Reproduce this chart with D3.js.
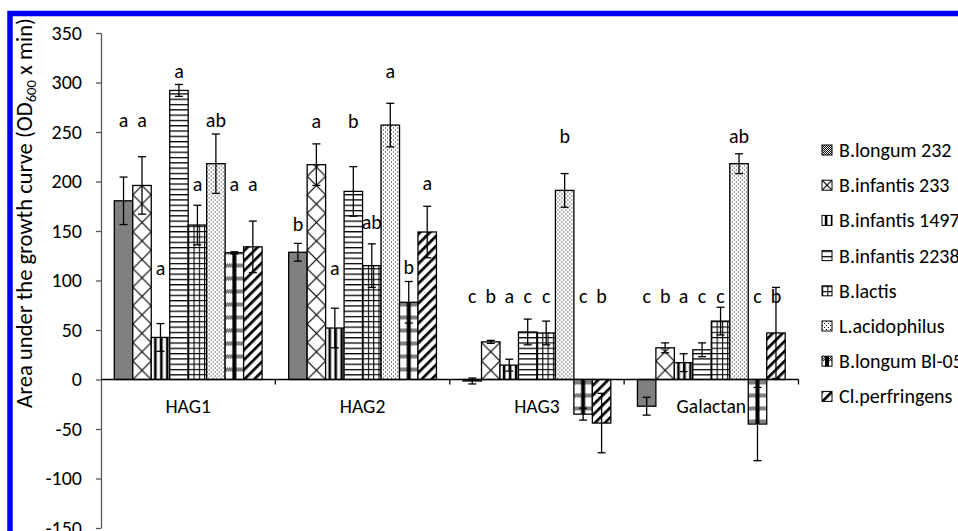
<!DOCTYPE html>
<html><head><meta charset="utf-8">
<script src="https://cdn.jsdelivr.net/npm/d3@7"></script>
<style>
html,body{margin:0;padding:0;background:#fff;overflow:hidden;}
svg{display:block;}
text{font-family:Carlito, Calibri, Lato, sans-serif;fill:#000;}
</style></head><body>
<svg id="chart" width="958" height="531"></svg>
<script>
// ---------- data ----------
const categories = ["HAG1", "HAG2", "HAG3", "Galactan"];
const seriesNames = ["B.longum 232", "B.infantis 233", "B.infantis 1497", "B.infantis 2238",
                     "B.lactis", "L.acidophilus", "B.longum Bl-05", "Cl.perfringens"];
// values per series, one per category
const longum232    = [180.5, 128.5, -1.5, -27];
const infantis233  = [196, 217, 38, 32];
const infantis1497 = [42.5, 52, 14.5, 17];
const infantis2238 = [292, 190, 48, 30];
const lactis       = [156, 115, 47, 59];
const acidophilus  = [218, 257, 191, 218];
const longumBl05   = [128, 78, -35, -45];
const perfringens  = [134, 149, -44, 47];
// error bar half-lengths
const longum232Err    = [24, 9, 3, 9];
const infantis233Err  = [29, 21, 1.5, 5];
const infantis1497Err = [14, 20, 6, 9];
const infantis2238Err = [6, 25, 13, 7];
const lactisErr       = [20, 22, 12, 14];
const acidophilusErr  = [30, 22, 17, 10];
const longumBl05Err   = [1, 21, 6, 37];
const perfringensErr  = [26, 26, 30, 46];
// significance letters per category (one per series)
const lettersHAG1     = ["a", "a", "a", "a", "a", "ab", "a", "a"];
const lettersHAG2     = ["b", "a", "a", "b", "ab", "a", "b", "a"];
const lettersHAG3     = ["c", "b", "a", "c", "c", "b", "c", "b"];
const lettersGalactan = ["c", "b", "a", "c", "c", "ab", "c", "b"];
// level (in data units) at which each letter sits
const levelHAG1     = [255, 255, 106, 305, 190, 255, 190, 190];
const levelHAG2     = [150, 254, 106, 254, 152, 305, 107, 191];
const levelHAG3     = [77, 77, 77, 77, 77, 239, 77, 77];
const levelGalactan = [77, 77, 77, 77, 77, 239, 77, 77];
const yTicks = [-150, -100, -50, 0, 50, 100, 150, 200, 250, 300, 350];
const yTitle = "Area under the growth curve (OD";
const yTitleSub = "600";
const yTitleEnd = " x min)";

const seriesValues = [longum232, infantis233, infantis1497, infantis2238, lactis, acidophilus, longumBl05, perfringens];
const seriesErrors = [longum232Err, infantis233Err, infantis1497Err, infantis2238Err, lactisErr, acidophilusErr, longumBl05Err, perfringensErr];
const letters = [lettersHAG1, lettersHAG2, lettersHAG3, lettersGalactan];
const levels = [levelHAG1, levelHAG2, levelHAG3, levelGalactan];

const rows = [];
categories.forEach((c, ci) => seriesNames.forEach((s, si) => rows.push({
  cat: c, ci, s, si, v: seriesValues[si][ci], e: seriesErrors[si][ci],
  letter: letters[ci][si], level: levels[ci][si]
})));

// ---------- layout ----------
const svg = d3.select("#chart");
const defs = svg.append("defs");
svg.append("rect").attr("x", 0).attr("y", 0).attr("width", 958).attr("height", 531).attr("fill", "#fff");

const y = d3.scaleLinear().domain([-150, 350]).range([528, 33]);
const x0 = d3.scaleBand().domain(categories).range([101, 798.5]).padding(0);
const x1 = d3.scaleBand().domain(seriesNames).range([13.3, x0.bandwidth() - 13.3]).padding(0);

// ---------- patterns ----------
function makePattern(id, type, px, py, w) {
  const p = defs.append("pattern").attr("id", id).attr("patternUnits", "userSpaceOnUse")
    .attr("x", px).attr("y", py);
  const bg = (W, H) => p.append("rect").attr("width", W).attr("height", H).attr("fill", "#fff");
  if (type === 0) { // fine checker
    p.attr("width", 2).attr("height", 2); bg(2, 2);
    p.append("rect").attr("x", 0).attr("y", 0).attr("width", 1).attr("height", 1).attr("fill", "#000");
    p.append("rect").attr("x", 1).attr("y", 1).attr("width", 1).attr("height", 1).attr("fill", "#000");
  } else if (type === 1) { // wide diagonal cross
    const T = w;
    p.attr("width", T).attr("height", T); bg(T, T);
    p.append("path").attr("d", `M0,0L${T},${T}M${T},0L0,${T}`)
      .attr("stroke", "#000").attr("stroke-width", 1.2).attr("fill", "none");
  } else if (type === 2) { // thick vertical
    p.attr("width", 6).attr("height", 6); bg(6, 6);
    p.append("rect").attr("x", 2.8).attr("y", 0).attr("width", 2.6).attr("height", 6).attr("fill", "#000");
  } else if (type === 3) { // horizontal lines
    p.attr("width", 6).attr("height", 5.3); bg(6, 5.3);
    p.append("rect").attr("x", 0).attr("y", 0).attr("width", 6).attr("height", 1.3).attr("fill", "#000");
  } else if (type === 4) { // small grid
    p.attr("width", 5.3).attr("height", 5.3); bg(5.3, 5.3);
    p.append("rect").attr("x", 0).attr("y", 0).attr("width", 5.3).attr("height", 1.1).attr("fill", "#000");
    p.append("rect").attr("x", 0).attr("y", 0).attr("width", 1.1).attr("height", 5.3).attr("fill", "#000");
  } else if (type === 5) { // sparse dots
    p.attr("width", 4).attr("height", 4); bg(4, 4);
    p.append("rect").attr("x", 0).attr("y", 0).attr("width", 1).attr("height", 1).attr("fill", "#000");
    p.append("rect").attr("x", 2).attr("y", 2).attr("width", 1).attr("height", 1).attr("fill", "#000");
  } else if (type === 6) { // plaid
    const H = 13;
    p.attr("width", w).attr("height", H); bg(w, H);
    for (let yy = 0; yy < 4; yy++) for (let xx = (yy % 2); xx < w; xx += 2)
      p.append("rect").attr("x", xx).attr("y", yy + 1).attr("width", 1).attr("height", 1).attr("fill", "#000");
    p.append("rect").attr("x", w / 2 - 2).attr("y", 0).attr("width", 4).attr("height", H).attr("fill", "#000");
  } else if (type === 7) { // wide upward diagonal
    p.attr("width", 7).attr("height", 7).attr("patternTransform", "rotate(45)"); bg(7, 7);
    p.append("rect").attr("x", 0).attr("y", 0).attr("width", 2.7).attr("height", 7).attr("fill", "#000");
  }
  return `url(#${id})`;
}

// ---------- frame ----------
svg.append("rect").attr("x", 10).attr("y", 13.5).attr("width", 1000).attr("height", 600)
  .attr("fill", "none").attr("stroke", "#0000ff").attr("stroke-width", 5.5);

// ---------- bars ----------
const g = svg.append("g");
const bw = x1.bandwidth();
g.selectAll("rect.bar").data(rows).join("rect").attr("class", "bar")
  .attr("x", d => x0(d.cat) + x1(d.s))
  .attr("y", d => y(Math.max(0, d.v)))
  .attr("width", bw)
  .attr("height", d => Math.abs(y(d.v) - y(0)))
  .attr("fill", d => makePattern(`p${d.si}_${d.ci}`, d.si, x0(d.cat) + x1(d.s), y(0), bw))
  .attr("stroke", "#000").attr("stroke-width", 1.3);

// ---------- axes ----------
const yAxis = svg.append("g").attr("transform", "translate(101,0)")
  .call(d3.axisLeft(y).tickValues(yTicks).tickFormat(d => String(d))
    .tickSize(5).tickSizeOuter(0).tickPadding(14));
yAxis.select(".domain").attr("stroke", "#595959").attr("stroke-width", 1.3);
yAxis.selectAll(".tick line").attr("stroke", "#595959").attr("stroke-width", 1.3);
yAxis.selectAll(".tick text").style("font-family", "Carlito, Calibri, Lato, sans-serif")
  .style("font-size", "20px").attr("fill", "#000");

const xAxisG = svg.append("g");
xAxisG.append("line").attr("x1", 101).attr("x2", 798.5).attr("y1", y(0)).attr("y2", y(0))
  .attr("stroke", "#000").attr("stroke-width", 1.3);
const bounds = categories.map(c => x0(c)).concat([x0.range()[1]]).slice(1);
xAxisG.selectAll("line.tk").data(bounds).join("line").attr("class", "tk")
  .attr("x1", d => d).attr("x2", d => d).attr("y1", y(0)).attr("y2", y(0) + 5)
  .attr("stroke", "#000").attr("stroke-width", 1.3);
xAxisG.selectAll("text.cat").data(categories).join("text").attr("class", "cat")
  .attr("x", d => x0(d) + x0.bandwidth() / 2).attr("y", 413)
  .attr("text-anchor", "middle").style("font-size", "19.5px").text(d => d);

// ---------- error bars ----------
const eb = svg.append("g").attr("stroke", "#000").attr("stroke-width", 1.3);
rows.forEach(d => {
  const cx = x0(d.cat) + x1(d.s) + bw / 2;
  const t = y(d.v + d.e), b = y(d.v - d.e);
  eb.append("line").attr("x1", cx).attr("x2", cx).attr("y1", t).attr("y2", b);
  eb.append("line").attr("x1", cx - 4).attr("x2", cx + 4).attr("y1", t).attr("y2", t);
  eb.append("line").attr("x1", cx - 4).attr("x2", cx + 4).attr("y1", b).attr("y2", b);
});

// ---------- letters ----------
svg.append("g").selectAll("text").data(rows).join("text")
  .attr("x", d => x0(d.cat) + x1(d.s) + bw / 2).attr("y", d => y(d.level))
  .attr("text-anchor", "middle").style("font-size", "20px").text(d => d.letter);

// ---------- y title ----------
const yt = svg.append("text").attr("transform", "translate(32,213) rotate(-90)")
  .attr("text-anchor", "middle").style("font-size", "20px");
yt.append("tspan").text(yTitle);
yt.append("tspan").attr("dy", 4).style("font-size", "13px").text(yTitleSub);
yt.append("tspan").attr("dy", -4).text(yTitleEnd);
const L = yt.node().getComputedTextLength();
const fs = 20 * 390 / L;
yt.style("font-size", fs + "px");
yt.selectAll("tspan").filter((d, i) => i === 1).style("font-size", (fs * 0.65) + "px");

// ---------- legend ----------
const leg = svg.append("g");
seriesNames.forEach((s, i) => {
  const cy = 150 + i * 35.2;
  leg.append("rect").attr("x", 822).attr("y", cy - 5).attr("width", 10).attr("height", 10)
    .attr("fill", makePattern(`lg${i}`, i, 822, cy - 5, 10)).attr("stroke", "#000").attr("stroke-width", 1);
  leg.append("text").attr("x", 839).attr("y", cy).attr("dy", "0.35em")
    .style("font-size", "20px").text(s);
});
</script>
</body></html>
